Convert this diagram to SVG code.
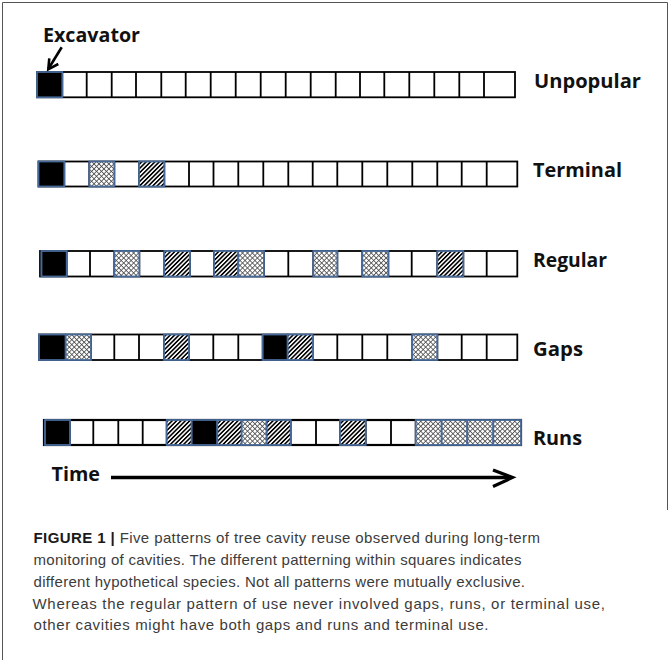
<svg xmlns="http://www.w3.org/2000/svg" width="670" height="660" viewBox="0 0 670 660">
<style>
.grid{fill:#fff;stroke:#000;stroke-width:1.8}
.gl{fill:none;stroke:#000;stroke-width:1.8}
.sh{stroke:#46699a;stroke-width:1.8}
.blk{fill:#000}
.dg{fill:url(#diag)}
.cr{fill:url(#cross)}
.lbl{font-family:"Open Sans","Liberation Sans",sans-serif;font-weight:bold;font-size:19px;fill:#111}
.cap{font-family:"Liberation Sans",Arial,sans-serif;font-size:15px;fill:#3c3c3c}
.capb{font-weight:bold;fill:#1a1a1a}
.frame{fill:none;stroke:#555;stroke-width:1}
</style>
<defs>
<pattern id="diag" width="3.1" height="3.1" patternUnits="userSpaceOnUse" patternTransform="rotate(45)">
<rect width="3.1" height="3.1" fill="#fff"/><rect width="1.6" height="3.1" fill="#000"/>
</pattern>
<pattern id="cross" width="3.5" height="3.5" patternUnits="userSpaceOnUse" patternTransform="rotate(45)">
<rect width="3.5" height="3.5" fill="#fff"/><rect width="3.5" height="0.8" fill="#4a4a4a"/><rect width="0.8" height="3.5" fill="#4a4a4a"/>
</pattern>
</defs>

<g id="frame">
<path class="frame" d="M2.5 660V2.5H667.5V510"/>
</g>

<g id="excavator">
<text class="lbl" x="43" y="41.5" textLength="97" lengthAdjust="spacingAndGlyphs">Excavator</text>
</g>

<g id="row-unpopular">
<rect class="grid" x="37" y="72" width="478" height="25.3"/>
<path class="gl" d="M62.3 72V97.3M86.7 72V97.3M111.7 72V97.3M136 72V97.3M161.3 72V97.3M185.7 72V97.3M210.7 72V97.3M235.7 72V97.3M260.7 72V97.3M285.7 72V97.3M310.7 72V97.3M335.7 72V97.3M360 72V97.3M384.3 72V97.3M409.3 72V97.3M434.3 72V97.3M459.3 72V97.3M484 72V97.3"/>
<rect class="blk sh" x="37" y="72" width="25.3" height="25.3"/>
<text class="lbl" x="534" y="87.5" textLength="107" lengthAdjust="spacingAndGlyphs">Unpopular</text>
</g>

<g id="row-terminal">
<rect class="grid" x="38.5" y="161.5" width="478.8" height="25"/>
<path class="gl" d="M64.3 161.5V186.5M89.3 161.5V186.5M114.3 161.5V186.5M139 161.5V186.5M164.3 161.5V186.5M189 161.5V186.5M213.5 161.5V186.5M238.3 161.5V186.5M263.3 161.5V186.5M288.3 161.5V186.5M312.7 161.5V186.5M337.3 161.5V186.5M362.3 161.5V186.5M387.3 161.5V186.5M412.3 161.5V186.5M437.3 161.5V186.5M461.7 161.5V186.5M486.7 161.5V186.5"/>
<rect class="blk sh" x="38.5" y="161.5" width="25.8" height="25"/>
<rect class="cr sh" x="89.3" y="161.5" width="25" height="25"/>
<rect class="dg sh" x="139" y="161.5" width="25.3" height="25"/>
<text class="lbl" x="533" y="177" textLength="89" lengthAdjust="spacingAndGlyphs">Terminal</text>
</g>

<g id="row-regular">
<rect class="grid" x="40" y="251" width="477.3" height="25.5"/>
<path class="gl" d="M66.7 251V276.5M90 251V276.5M114.3 251V276.5M139.3 251V276.5M164.3 251V276.5M190 251V276.5M214 251V276.5M238.3 251V276.5M264 251V276.5M288.3 251V276.5M313.3 251V276.5M337.3 251V276.5M362.3 251V276.5M388.3 251V276.5M411.7 251V276.5M437.3 251V276.5M463.3 251V276.5M486.7 251V276.5"/>
<rect class="blk sh" x="41.5" y="251" width="25.2" height="25.5"/>
<rect class="cr sh" x="114.3" y="251" width="25" height="25.5"/>
<rect class="dg sh" x="164.3" y="251" width="25.7" height="25.5"/>
<rect class="dg sh" x="214" y="251" width="24.3" height="25.5"/>
<rect class="cr sh" x="238.3" y="251" width="25.7" height="25.5"/>
<rect class="cr sh" x="313.3" y="251" width="24" height="25.5"/>
<rect class="cr sh" x="362.3" y="251" width="26" height="25.5"/>
<rect class="dg sh" x="437.3" y="251" width="26" height="25.5"/>
<text class="lbl" x="533" y="266.5" textLength="74" lengthAdjust="spacingAndGlyphs">Regular</text>
</g>

<g id="row-gaps">
<rect class="grid" x="39" y="334.5" width="478.3" height="25.5"/>
<path class="gl" d="M65.7 334.5V360M91 334.5V360M114.3 334.5V360M139 334.5V360M164 334.5V360M189 334.5V360M213.3 334.5V360M238.3 334.5V360M262.7 334.5V360M287.7 334.5V360M312.7 334.5V360M337.3 334.5V360M362.3 334.5V360M387.3 334.5V360M412.3 334.5V360M437.3 334.5V360M461.7 334.5V360M486.7 334.5V360"/>
<rect class="blk sh" x="39" y="334.5" width="26.7" height="25.5"/>
<rect class="cr sh" x="65.7" y="334.5" width="25.3" height="25.5"/>
<rect class="dg sh" x="164" y="334.5" width="25" height="25.5"/>
<rect class="blk sh" x="262.7" y="334.5" width="25" height="25.5"/>
<rect class="dg sh" x="287.7" y="334.5" width="25" height="25.5"/>
<rect class="cr sh" x="412.3" y="334.5" width="25" height="25.5"/>
<text class="lbl" x="533" y="355.5" textLength="50" lengthAdjust="spacingAndGlyphs">Gaps</text>
</g>

<g id="row-runs">
<rect class="grid" x="44" y="420" width="477" height="25" style="stroke-width:2.2"/>
<path class="gl" d="M70 420V445M93.3 420V445M118.3 420V445M142.7 420V445M166.7 420V445M191.7 420V445M217.3 420V445M241.7 420V445M266.7 420V445M290.7 420V445M316 420V445M340 420V445M365.7 420V445M391 420V445M415.7 420V445M441.7 420V445M467.3 420V445M493.3 420V445"/>
<rect class="blk sh" x="45" y="420" width="25" height="25"/>
<rect class="dg sh" x="166.7" y="420" width="25" height="25"/>
<rect class="blk sh" x="191.7" y="420" width="25.6" height="25"/>
<rect class="dg sh" x="217.3" y="420" width="24.4" height="25"/>
<rect class="cr sh" x="241.7" y="420" width="25" height="25"/>
<rect class="dg sh" x="266.7" y="420" width="24" height="25"/>
<rect class="dg sh" x="340" y="420" width="25.7" height="25"/>
<rect class="cr sh" x="415.7" y="420" width="26" height="25"/>
<rect class="cr sh" x="441.7" y="420" width="25.6" height="25"/>
<rect class="cr sh" x="467.3" y="420" width="26" height="25"/>
<rect class="cr sh" x="493.3" y="420" width="27.7" height="25"/>
<text class="lbl" x="533" y="445" textLength="49" lengthAdjust="spacingAndGlyphs">Runs</text>
</g>

<g id="time">
<text class="lbl" x="51.5" y="481" textLength="48.5" lengthAdjust="spacingAndGlyphs">Time</text>
</g>

<g id="connectors">
<path d="M61.7 47.3L48.3 69" fill="none" stroke="#000" stroke-width="2.6"/>
<path d="M49.3 58.3L48.3 69.3L58.3 64" fill="none" stroke="#000" stroke-width="2.6" stroke-linejoin="miter"/>
<path d="M111 477.5H511" fill="none" stroke="#000" stroke-width="3.6"/>
<path d="M493 470L512.5 477.5L493 486.5" fill="none" stroke="#000" stroke-width="3.2"/>
</g>

<g id="caption">
<text class="cap" x="33.5" y="543" textLength="506.5"><tspan class="capb">FIGURE 1 | </tspan>Five patterns of tree cavity reuse observed during long-term</text>
<text class="cap" x="33.5" y="565" textLength="488">monitoring of cavities. The different patterning within squares indicates</text>
<text class="cap" x="33.5" y="587" textLength="491.5">different hypothetical species. Not all patterns were mutually exclusive.</text>
<text class="cap" x="32.5" y="608.5" textLength="572.5">Whereas the regular pattern of use never involved gaps, runs, or terminal use,</text>
<text class="cap" x="33.5" y="630" textLength="455">other cavities might have both gaps and runs and terminal use.</text>
</g>
</svg>
